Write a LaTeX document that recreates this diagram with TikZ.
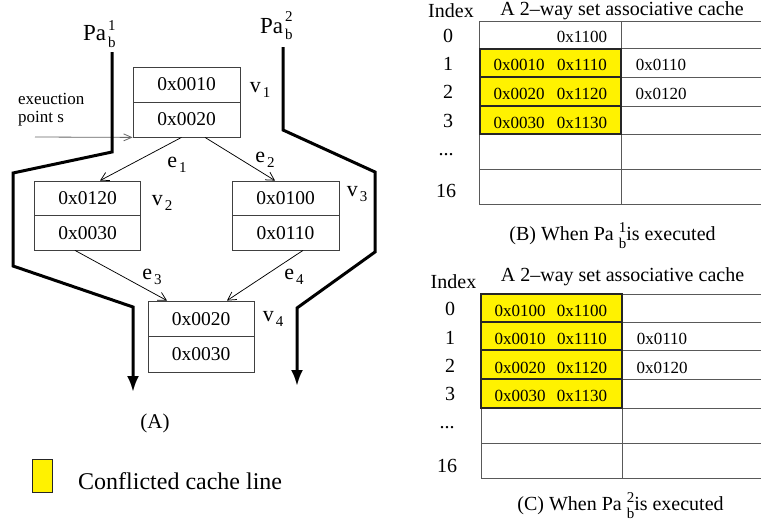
\documentclass[tikz,border=0pt]{standalone}
\usepackage{fontspec}
\setmainfont{Liberation Serif}
\usetikzlibrary{arrows.meta,calc}
\newcommand{\fs}[1]{\fontsize{#1}{#1}\selectfont}
\newcommand{\sublab}[2]{{\fs{22}#1}\hspace{2pt}\raisebox{-5pt}{\fs{15}#2}}
\newcommand{\supsub}[4]{\makebox[0pt][l]{\raisebox{#3}{\fs{15}#1}}\raisebox{-#4}{\fs{15}#2}}
\tikzset{
  cellbox/.style={draw=black!75, line width=0.8pt, inner sep=0pt, font=\fs{19.5}},
  lab/.style={inner sep=0pt},
  edgearrow/.style={draw=black, line width=0.75pt, -{Straight Barb[length=8pt,width=9pt]}},
  pathline/.style={line width=3pt, line join=miter, -{Latex[length=16pt,width=12pt]}},
  tabline/.style={draw=black!65, line width=1pt},
  ycell/.style={draw=black!85, line width=1.3pt, fill=yellow, inner sep=0pt},
  ctext/.style={anchor=base, inner sep=0pt, font=\fs{17}},
  idx/.style={anchor=base, inner sep=0pt, font=\fs{20}},
  captext/.style={anchor=base, inner sep=0pt, font=\fs{20}}
}
\begin{document}
\begin{tikzpicture}[x=1pt,y=-1pt]
\useasboundingbox (0,0) rectangle (761,525);

% ---------------- (A) graph ----------------
\node[cellbox, minimum width=107, minimum height=35] (v1top) at (186.5,84.5) {0x0010};
\node[cellbox, minimum width=107, minimum height=35] (v1bot) at (186.5,119.5) {0x0020};
\node[cellbox, minimum width=106, minimum height=34.5] (v2top) at (87.5,198.25) {0x0120};
\node[cellbox, minimum width=106, minimum height=34.5] (v2bot) at (87.5,232.75) {0x0030};
\node[cellbox, minimum width=107, minimum height=34.5] (v3top) at (285.5,198.25) {0x0100};
\node[cellbox, minimum width=107, minimum height=34.5] (v3bot) at (285.5,232.75) {0x0110};
\node[cellbox, minimum width=106, minimum height=35.5] (v4top) at (201,318.75) {0x0020};
\node[cellbox, minimum width=106, minimum height=35.5] (v4bot) at (201,354.25) {0x0030};

\node[lab] (lv1) at (260,90) {\sublab{v}{1}};
\node[lab] (lv2) at (162,203) {\sublab{v}{2}};
\node[lab] (lv3) at (357,194) {\sublab{v}{3}};
\node[lab] (lv4) at (273,319) {\sublab{v}{4}};
\node[lab] (le1) at (177,165) {\sublab{e}{1}};
\node[lab] (le2) at (265,160) {\sublab{e}{2}};
\node[lab] (le3) at (152,277) {\sublab{e}{3}};
\node[lab] (le4) at (294,277) {\sublab{e}{4}};

\draw[edgearrow] ($(v1bot.south)+(-5,0)$) -- ($(v2top.north)+(12.5,0)$);
\draw[edgearrow] ($(v1bot.south)+(18.5,0)$) -- ($(v3top.north)+(-10.5,0)$);
\draw[edgearrow] ($(v2bot.south)+(-12.5,0)$) -- ($(v4top.north)+(-34,0)$);
\draw[edgearrow] ($(v3bot.south)+(17.5,0)$) -- ($(v4top.north)+(26,0)$);

% execution point
\coordinate (exs) at (35,137);
\draw[draw=black!60, line width=0.8pt, -{Straight Barb[length=8pt,width=7pt]}] (exs) -- (v1bot.south west);
\node[anchor=west, inner sep=0pt, font=\fs{17}] (exec1) at (18,99) {exeuction};
\node[anchor=west, inner sep=0pt, font=\fs{17}] (exec2) at (18,119) {point s};

% thick paths
\coordinate (a0) at (112,52);
\coordinate (a1) at (112,152);
\coordinate (a2) at (13,173);
\coordinate (a3) at (13,266);
\coordinate (a4) at (133,307);
\coordinate (a5) at (133,392);
\draw[pathline] (a0) -- (a1) -- (a2) -- (a3) -- (a4) -- (a5);
\coordinate (b0) at (283,47);
\coordinate (b1) at (283,130);
\coordinate (b2) at (375,172);
\coordinate (b3) at (375,252);
\coordinate (b4) at (297,308);
\coordinate (b5) at (297,386);
\draw[pathline] (b0) -- (b1) -- (b2) -- (b3) -- (b4) -- (b5);

\node[anchor=base west, inner sep=0pt, font=\fs{23}] (pa1) at (83,40) {Pa\hspace{2pt}\supsub{1}{b}{10pt}{7pt}};
\node[anchor=base west, inner sep=0pt, font=\fs{23}] (pa2) at (260,33) {Pa\hspace{2pt}\supsub{2}{b}{12pt}{6pt}};

\node[anchor=base, inner sep=0pt, font=\fs{21}] (capA) at (155,428) {(A)};

% legend
\node[draw=black!85, line width=1pt, fill=yellow, minimum width=20, minimum height=33, inner sep=0pt] (legbox) at (42,475.5) {};
\node[anchor=west, inner sep=0pt, font=\fs{24}] (legtext) at (78,481) {Conflicted cache line};

% ---------------- (B) table ----------------
\foreach \yy in {21,48,77,106,134,169,204} \draw[tabline] (479,\yy) -- (762,\yy);
\draw[tabline] (479,21) -- (479,204);
\draw[tabline] (621,21) -- (621,204);
\node[ycell, minimum width=141, minimum height=28] (by1) at (550.5,63) {};
\node[ycell, minimum width=141, minimum height=28] (by2) at (550.5,91.5) {};
\node[ycell, minimum width=141, minimum height=28] (by3) at (550.5,120) {};
\node[ctext] (bt0b) at (582,42) {0x1100};
\node[ctext] (bt1a) at (519,70) {0x0010};
\node[ctext] (bt1b) at (582,70) {0x1110};
\node[ctext] (bt1c) at (661,70) {0x0110};
\node[ctext] (bt2a) at (519,99) {0x0020};
\node[ctext] (bt2b) at (582,99) {0x1120};
\node[ctext] (bt2c) at (661,99) {0x0120};
\node[ctext] (bt3a) at (519,128) {0x0030};
\node[ctext] (bt3b) at (582,128) {0x1130};
\node[idx] (bi0) at (448,42) {0};
\node[idx] (bi1) at (448,70) {1};
\node[idx] (bi2) at (448,98) {2};
\node[idx] (bi3) at (448,127) {3};
\node[idx] (bi4) at (446,155) {...};
\node[idx] (bi5) at (446,197) {16};
\node[idx] (bidx) at (451,17) {Index};
\node[idx] (btitle) at (622,15.5) {A 2–way set associative cache};
\node[captext] (capB) at (612.5,240) {(B) When Pa \supsub{1}{b}{8pt}{8pt}is executed};

% ---------------- (C) table ----------------
\foreach \yy in {294,322,350,379,408,443,478} \draw[tabline] (481,\yy) -- (762,\yy);
\draw[tabline] (481,294) -- (481,478);
\draw[tabline] (622,294) -- (622,478);
\node[ycell, minimum width=141, minimum height=28] (cy0) at (551.5,308) {};
\node[ycell, minimum width=141, minimum height=28] (cy1) at (551.5,336) {};
\node[ycell, minimum width=141, minimum height=29] (cy2) at (551.5,364.5) {};
\node[ycell, minimum width=141, minimum height=29] (cy3) at (551.5,393.5) {};
\node[ctext] (ct0a) at (520,316) {0x0100};
\node[ctext] (ct0b) at (582,316) {0x1100};
\node[ctext] (ct1a) at (520,344) {0x0010};
\node[ctext] (ct1b) at (582,344) {0x1110};
\node[ctext] (ct1c) at (662,344) {0x0110};
\node[ctext] (ct2a) at (520,373) {0x0020};
\node[ctext] (ct2b) at (582,373) {0x1120};
\node[ctext] (ct2c) at (662,373) {0x0120};
\node[ctext] (ct3a) at (520,401) {0x0030};
\node[ctext] (ct3b) at (582,401) {0x1130};
\node[idx] (ci0) at (450,315) {0};
\node[idx] (ci1) at (450,344) {1};
\node[idx] (ci2) at (450,372) {2};
\node[idx] (ci3) at (450,400) {3};
\node[idx] (ci4) at (447,428) {...};
\node[idx] (ci5) at (447,472) {16};
\node[idx] (cidx) at (453.5,288) {Index};
\node[idx] (ctitle) at (622.5,281) {A 2–way set associative cache};
\node[captext] (capC) at (620.5,510) {(C) When Pa \supsub{2}{b}{8pt}{8pt}is executed};
\end{tikzpicture}
\end{document}
